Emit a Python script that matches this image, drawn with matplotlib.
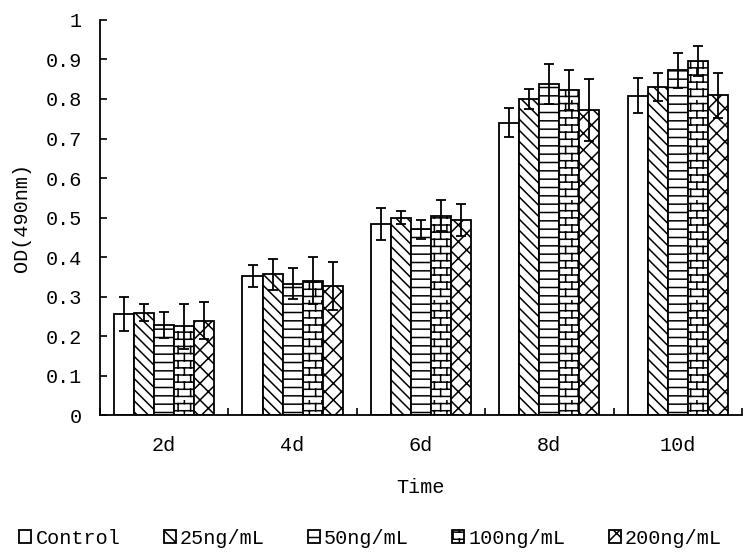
import warnings
import numpy as np
import matplotlib
matplotlib.use("Agg")
import matplotlib.pyplot as plt
import matplotlib.hatch as mhatch
from matplotlib.path import Path

warnings.filterwarnings("ignore")

categories = ["2d", "4d", "6d", "8d", "10d"]
series = ["Control", "25ng/mL", "50ng/mL", "100ng/mL", "200ng/mL"]

control = [0.256, 0.352, 0.483, 0.740, 0.808]
ng25 = [0.259, 0.356, 0.500, 0.800, 0.830]
ng50 = [0.228, 0.332, 0.470, 0.838, 0.873]
ng100 = [0.225, 0.340, 0.505, 0.823, 0.897]
ng200 = [0.239, 0.327, 0.493, 0.772, 0.810]

control_err = [0.043, 0.027, 0.040, 0.037, 0.044]
ng25_err = [0.022, 0.040, 0.016, 0.025, 0.036]
ng50_err = [0.034, 0.039, 0.024, 0.051, 0.044]
ng100_err = [0.057, 0.059, 0.040, 0.050, 0.038]
ng200_err = [0.046, 0.061, 0.040, 0.078, 0.057]


# brick pattern (not a built-in hatch), used with hatch='b'
class BrickHatch(mhatch.HatchPatternBase):
    rows = 14
    cols = 8

    def __init__(self, hatch, density):
        self.on = 'b' in hatch
        if self.on:
            self.num_vertices = self.rows * 2 + self.rows * self.cols * 2
        else:
            self.num_vertices = 0

    def set_vertices_and_codes(self, vertices, codes):
        k = 0
        dy = 1.0 / self.rows
        dx = 1.0 / self.cols
        for i in range(self.rows):
            y = i * dy + dy / 2
            vertices[k] = (0, y)
            vertices[k + 1] = (1, y)
            codes[k] = Path.MOVETO
            codes[k + 1] = Path.LINETO
            k += 2
            off = (i % 2) * dx / 2
            for j in range(self.cols):
                x = j * dx + off + dx / 4
                vertices[k] = (x, y)
                vertices[k + 1] = (x, y + dy)
                codes[k] = Path.MOVETO
                codes[k + 1] = Path.LINETO
                k += 2


mhatch._hatch_types.append(BrickHatch)

plt.rcParams['font.family'] = ['Liberation Mono', 'DejaVu Sans']
plt.rcParams['hatch.linewidth'] = 1.1
plt.rcParams['hatch.color'] = 'black'

values = [control, ng25, ng50, ng100, ng200]
errors = [control_err, ng25_err, ng50_err, ng100_err, ng200_err]
hatches = ['', '\\\\\\', '--', 'b', 'xx']
fs = 14.5

fig = plt.figure(figsize=(7.5, 5.54), dpi=100)
ax = fig.add_axes([0.1333, 0.2509, 0.856, 0.713])

x = np.arange(len(categories))
w = 0.156
for i in range(len(series)):
    pos = x + (i - 2) * w
    ax.bar(pos, values[i], w, color='white', edgecolor='black', linewidth=1.3,
           hatch=hatches[i], label=series[i], zorder=2)
    ax.errorbar(pos, values[i], yerr=errors[i], fmt='none', ecolor='black',
                elinewidth=1.3, capsize=3.5, capthick=1.3, zorder=3)

ax.set_xlim(-0.5, 4.5)
ax.set_ylim(0, 1)
ax.set_yticks(np.arange(0, 1.01, 0.1))
ax.set_yticklabels(['0', '0.1', '0.2', '0.3', '0.4', '0.5', '0.6', '0.7', '0.8', '0.9', '1'])
ax.set_xticks(x)
ax.set_xticklabels(categories)
ax.set_xticks(np.arange(-0.5, 4.6, 1), minor=True)
ax.tick_params(axis='x', which='major', length=0, pad=15, labelsize=fs)
ax.tick_params(axis='x', which='minor', direction='in', length=5, width=1.2)
ax.tick_params(axis='y', direction='in', length=5, width=1.2, pad=13, labelsize=fs)

for s in ['top', 'right']:
    ax.spines[s].set_visible(False)
for s in ['left', 'bottom']:
    ax.spines[s].set_linewidth(1.3)

ax.set_xlabel('Time', fontsize=fs, labelpad=17)
ax.set_ylabel('OD(490nm)', fontsize=fs)
ax.yaxis.set_label_coords(-0.108, 0.5)

fig.legend(loc='lower center', bbox_to_anchor=(0.494, -0.014), ncol=5, frameon=False,
           fontsize=fs, handlelength=0.6, handleheight=0.6, handletextpad=0.2,
           columnspacing=2.15, borderaxespad=0.3)

fig.savefig('out.png', dpi=100)
